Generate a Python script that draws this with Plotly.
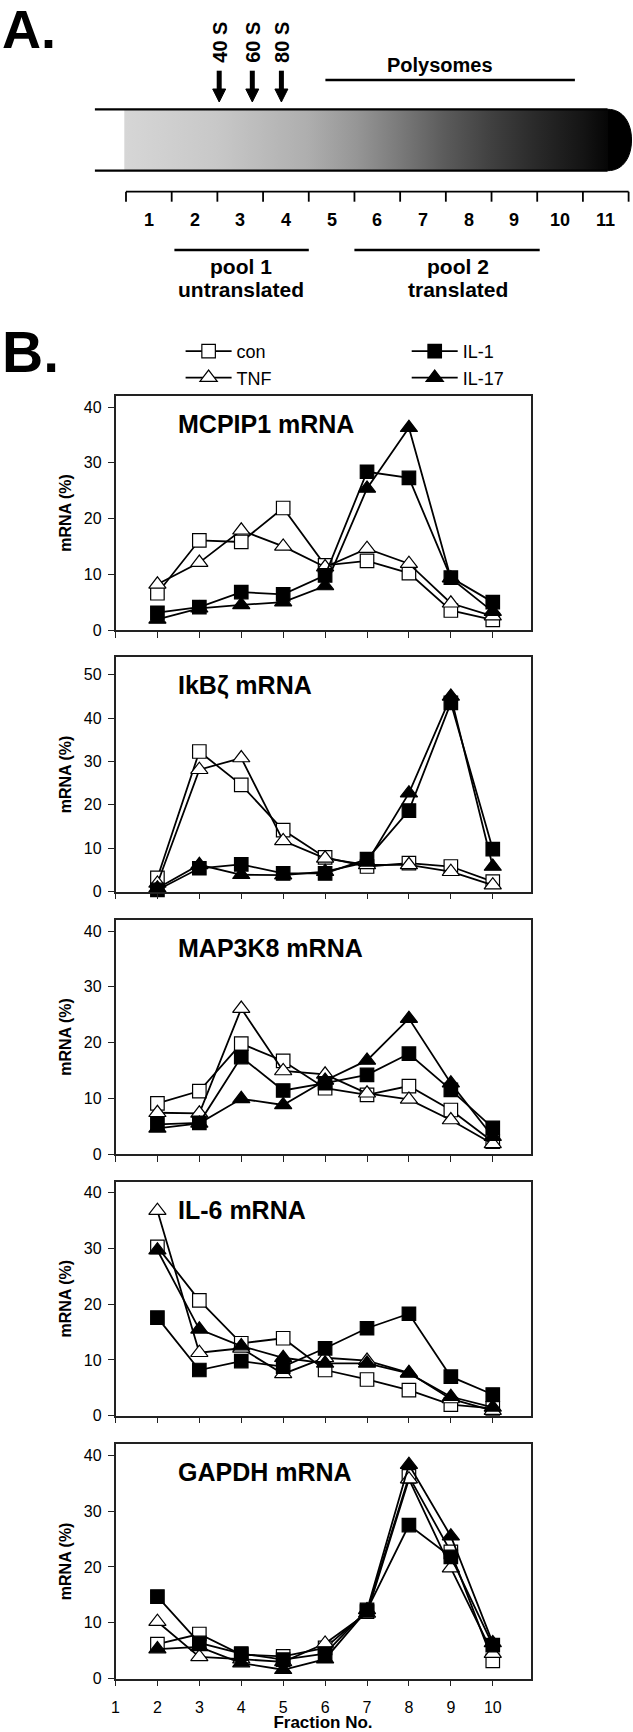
import plotly.graph_objects as go

W, H = 633, 1732
FONT = "Liberation Sans, Arial, sans-serif"

# ---------------- data ----------------
fractions = [2, 3, 4, 5, 6, 7, 8, 9, 10]
series_names = ["con", "TNF", "IL-1", "IL-17"]

mcpip1_con = [6.6, 16.1, 15.8, 21.9, 11.6, 12.4, 10.2, 3.5, 1.8]
mcpip1_tnf = [8.2, 12.1, 17.9, 15.0, 11.3, 14.6, 11.9, 4.8, 2.5]
mcpip1_il1 = [3.1, 4.1, 6.8, 6.4, 9.8, 28.4, 27.3, 9.4, 5.0]
mcpip1_il17 = [1.9, 3.9, 4.5, 5.0, 7.9, 25.4, 36.3, 9.3, 3.3]

ikbz_con = [3.2, 32.3, 24.6, 14.2, 7.9, 5.8, 6.6, 5.8, 2.3]
ikbz_tnf = [1.9, 28.1, 30.8, 11.7, 7.7, 6.2, 6.2, 4.6, 1.5]
ikbz_il1 = [0.4, 5.4, 6.3, 4.2, 4.2, 7.5, 18.7, 43.5, 9.8]
ikbz_il17 = [0.8, 6.2, 3.9, 3.8, 4.6, 6.8, 22.7, 45.0, 5.8]

map3k8_con = [9.1, 11.3, 19.8, 16.7, 11.8, 10.6, 12.2, 7.9, 2.2]
map3k8_tnf = [7.4, 7.3, 26.1, 14.9, 14.3, 10.9, 9.8, 6.1, 1.8]
map3k8_il1 = [5.3, 5.6, 17.4, 11.4, 12.7, 14.2, 18.0, 11.5, 4.7]
map3k8_il17 = [4.6, 5.5, 9.9, 8.8, 13.2, 16.8, 24.3, 12.7, 3.1]

il6_con = [30.3, 20.7, 13.0, 13.9, 8.2, 6.5, 4.6, 2.0, 1.3]
il6_tnf = [36.8, 11.3, 12.1, 7.5, 10.4, 9.9, 7.7, 3.0, 0.9]
il6_il1 = [17.6, 8.2, 9.8, 8.8, 12.1, 15.7, 18.3, 7.0, 3.8]
il6_il17 = [29.7, 15.5, 12.5, 10.4, 9.4, 9.4, 7.6, 3.4, 1.5]

gapdh_con = [6.2, 8.0, 4.3, 4.0, 5.5, 12.0, 36.2, 22.7, 3.2]
gapdh_tnf = [10.2, 3.9, 3.5, 3.0, 6.3, 11.7, 35.7, 19.8, 4.5]
gapdh_il1 = [14.7, 6.4, 4.5, 3.4, 4.5, 12.3, 27.5, 21.8, 6.0]
gapdh_il17 = [5.3, 5.7, 2.8, 1.6, 3.5, 12.3, 38.3, 25.5, 6.4]

panel_titles = ["MCPIP1 mRNA", "IkBζ mRNA", "MAP3K8 mRNA", "IL-6 mRNA", "GAPDH mRNA"]
panel_data = [
    [mcpip1_con, mcpip1_tnf, mcpip1_il1, mcpip1_il17],
    [ikbz_con, ikbz_tnf, ikbz_il1, ikbz_il17],
    [map3k8_con, map3k8_tnf, map3k8_il1, map3k8_il17],
    [il6_con, il6_tnf, il6_il1, il6_il17],
    [gapdh_con, gapdh_tnf, gapdh_il1, gapdh_il17],
]
panel_ymax = [42, 54, 42, 42, 42]
panel_yticks = [[0, 10, 20, 30, 40], [0, 10, 20, 30, 40, 50],
                [0, 10, 20, 30, 40], [0, 10, 20, 30, 40], [0, 10, 20, 30, 40]]
x_ticks = [1, 2, 3, 4, 5, 6, 7, 8, 9, 10]

# diagram (panel A) labels
gradient_fractions = [1, 2, 3, 4, 5, 6, 7, 8, 9, 10, 11]
sediment_labels = ["40 S", "60 S", "80 S"]

# ---------------- layout geometry (pixels) ----------------
plot_left, plot_right = 115.5, 530.5
panel_px = [(396.0, 630.0), (657.3, 891.7), (920.0, 1154.0), (1181.7, 1415.7), (1444.0, 1678.7)]

styles = {
    "con":   dict(symbol="square", color="white", legend="legend", rank=1),
    "TNF":   dict(symbol="triangle-up", color="white", legend="legend", rank=2),
    "IL-1":  dict(symbol="square", color="black", legend="legend2", rank=1),
    "IL-17": dict(symbol="triangle-up", color="black", legend="legend2", rank=2),
}

fig = go.Figure()

for p, (title, data) in enumerate(zip(panel_titles, panel_data)):
    ax = "" if p == 0 else str(p + 1)
    for name, vals in zip(series_names, data):
        st = styles[name]
        fig.add_trace(go.Scatter(
            x=fractions, y=vals, name=name, mode="lines+markers",
            xaxis="x" + ax, yaxis="y" + ax,
            line=dict(color="black", width=1.8),
            marker=dict(symbol=st["symbol"], size=15 if "triangle" in st["symbol"] else 13.5,
                        color=st["color"], line=dict(color="black", width=1.2)),
            cliponaxis=False, showlegend=(p == 0), legend=st["legend"], legendrank=st["rank"],
            hoverinfo="x+y+name",
        ))

legend_common = dict(orientation="v", xanchor="left", yanchor="top",
                     font=dict(size=18, family=FONT), bgcolor="rgba(0,0,0,0)",
                     itemwidth=46, tracegroupgap=0)
layout = dict(
    template="none",
    width=W, height=H, margin=dict(l=0, r=0, t=0, b=0, autoexpand=False),
    paper_bgcolor="white", plot_bgcolor="white",
    font=dict(family=FONT, color="black", size=16),
    showlegend=True,
    legend=dict(x=180.6 / W, y=1 - 333 / H, **legend_common),
    legend2=dict(x=406.7 / W, y=1 - 333 / H, **legend_common),
)

annotations = []
xdom = [plot_left / W, plot_right / W]
for p in range(5):
    ax = "" if p == 0 else str(p + 1)
    top, bot = panel_px[p]
    layout["xaxis" + ax] = dict(
        domain=xdom, range=[1, 10.9], anchor="y" + ax, automargin=False,
        showline=True, mirror=True, linecolor="#222", linewidth=1.5,
        ticks="outside", ticklen=6, tickwidth=1.3, tickcolor="#222",
        tickvals=x_ticks, showticklabels=(p == 4), showgrid=False, zeroline=False,
        tickfont=dict(size=16), ticklabelstandoff=7,
        title=dict(text="<b>Fraction No.</b>", font=dict(size=17), standoff=4) if p == 4 else None,
    )
    layout["yaxis" + ax] = dict(
        domain=[1 - bot / H, 1 - top / H], range=[0, panel_ymax[p]], anchor="x" + ax,
        automargin=False,
        showline=True, mirror=True, linecolor="#222", linewidth=1.5,
        ticks="outside", ticklen=6, tickwidth=1.3, tickcolor="#222",
        tickvals=panel_yticks[p], showgrid=False, zeroline=False, tickfont=dict(size=16),
        ticklabelstandoff=3,
        title=dict(text="<b>mRNA (%)</b>", font=dict(size=16), standoff=8),
    )
    annotations.append(dict(
        text="<b>%s</b>" % panel_titles[p], xref="x%s domain" % ax, yref="y%s domain" % ax,
        x=0.145, y=1 - 28 / (bot - top),
        xanchor="left", yanchor="middle", showarrow=False, font=dict(size=25),
    ))

# ---------------- Panel A diagram on a pixel-coordinate axis ----------------
DIAG_H = 395.0
layout["xaxis6"] = dict(domain=[0, 1], range=[0, W], visible=False, anchor="y6", fixedrange=True)
layout["yaxis6"] = dict(domain=[1 - DIAG_H / H, 1], range=[DIAG_H, 0], visible=False,
                        anchor="x6", fixedrange=True)

tube_left, grad_left, grad_right, cap_right = 94.9, 124.3, 607.6, 631.5
tube_top, tube_bot = 109.3, 170.7

fig.add_trace(go.Scatter(
    x=[grad_left, grad_right, grad_right, grad_left, grad_left],
    y=[tube_top, tube_top, tube_bot, tube_bot, tube_top],
    xaxis="x6", yaxis="y6", mode="lines", line=dict(width=0), fill="toself",
    fillgradient=dict(type="horizontal", colorscale=[
        [0.0, "#d6d6d6"], [0.19, "#c8c8c8"], [0.38, "#aeaeae"], [0.48, "#969696"],
        [0.57, "#7a7a7a"], [0.66, "#5c5c5c"], [0.76, "#404040"], [0.85, "#2a2a2a"],
        [0.95, "#141414"], [1.0, "#060606"]]),
    showlegend=False, hoverinfo="skip",
))

shapes = []
def line(x0, y0, x1, y1, w=2.0):
    shapes.append(dict(type="line", xref="x6", yref="y6", x0=x0, y0=y0, x1=x1, y1=y1,
                       line=dict(color="black", width=w)))

# tube
line(tube_left, tube_top, grad_right, tube_top, 2.2)
line(tube_left, tube_bot, grad_right, tube_bot, 2.2)
mid = (tube_top + tube_bot) / 2
shapes.append(dict(type="path", xref="x6", yref="y6",
                   path=f"M{grad_right},{tube_top} C{cap_right - 8},{tube_top} {cap_right},{tube_top + 14} {cap_right},{mid} "
                        f"C{cap_right},{tube_bot - 14} {cap_right - 8},{tube_bot} {grad_right},{tube_bot} Z",
                   fillcolor="black", line=dict(color="black", width=1)))

# arrows + rotated labels
arrow_x = [219.2, 252.3, 281.4]
for ax_, lab in zip(arrow_x, sediment_labels):
    line(ax_, 70.7, ax_, 92, 5)
    shapes.append(dict(type="path", xref="x6", yref="y6",
                       path=f"M{ax_ - 6.5},89 L{ax_ + 6.5},89 L{ax_},102 Z",
                       fillcolor="black", line=dict(color="black", width=1)))
    annotations.append(dict(text="<b>%s</b>" % lab, xref="x6", yref="y6", x=ax_, y=42.5,
                            textangle=-90, showarrow=False, font=dict(size=20),
                            xanchor="center", yanchor="middle"))

# polysomes
line(325.4, 80, 574.9, 80, 2.4)
annotations.append(dict(text="<b>Polysomes</b>", xref="x6", yref="y6", x=440, y=65,
                        showarrow=False, font=dict(size=20)))

# ruler
ruler_left, ruler_right, ruler_y = 126.0, 628.6, 191.7
step = (ruler_right - ruler_left) / len(gradient_fractions)
line(ruler_left, ruler_y, ruler_right, ruler_y, 1.8)
for i in range(len(gradient_fractions) + 1):
    tx = ruler_left + i * step
    line(tx, ruler_y, tx, ruler_y + 10, 1.8)
for i, f in enumerate(gradient_fractions):
    annotations.append(dict(text="<b>%d</b>" % f, xref="x6", yref="y6",
                            x=ruler_left + (i + 0.5) * step, y=220, showarrow=False,
                            font=dict(size=18)))

# pools
line(174.4, 250, 308.8, 250, 2.4)
line(354.4, 250, 539.7, 250, 2.4)
for tx, l1, l2 in [(241, "pool 1", "untranslated"), (457.5, "pool 2", "translated")]:
    annotations.append(dict(text="<b>%s</b>" % l1, xref="x6", yref="y6", x=tx, y=266.5,
                            showarrow=False, font=dict(size=21)))
    annotations.append(dict(text="<b>%s</b>" % l2, xref="x6", yref="y6", x=tx, y=289.5,
                            showarrow=False, font=dict(size=21)))

# panel letters
annotations.append(dict(text="<b>A.</b>", xref="paper", yref="paper", x=0, y=1 - 29 / H,
                        xanchor="left", yanchor="middle", showarrow=False, font=dict(size=54)))
annotations.append(dict(text="<b>B.</b>", xref="paper", yref="paper", x=0, y=1 - 352 / H,
                        xanchor="left", yanchor="middle", showarrow=False, font=dict(size=57)))

layout["shapes"] = shapes
layout["annotations"] = annotations
fig.update_layout(**layout)

fig.write_html("out.html", config={"displayModeBar": False},
               post_script="document.body.style.margin='0px';document.body.style.padding='0px';")
